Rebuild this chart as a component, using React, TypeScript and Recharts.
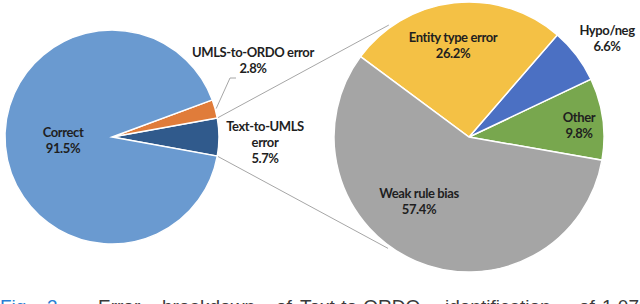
import React from 'react';
import { PieChart, Pie, Cell, Customized } from 'recharts';

// ---- data ----
const overallNames = ['Text-to-UMLS error', 'UMLS-to-ORDO error', 'Correct'];
const overallValues = [5.7, 2.8, 91.5];
const breakdownNames = ['Other', 'Hypo/neg', 'Entity type error', 'Weak rule bias'];
const breakdownValues = [9.8, 6.6, 26.2, 57.4];
const captionWords = ['Fig.', '3.', 'Error', 'breakdown', 'of', 'Text-to-ORDO', 'identification', 'of', '1,073'];

// ---- styles / layout ----
const overallColors = ['#305A8C', '#E07C3A', '#6A9AD0'];
const breakdownColors = ['#78A74E', '#4B70C3', '#F4C145', '#A5A5A5'];
const LEFT = { cx: 112, cy: 137, r: 107, start: -10.3 };
const RIGHT = { cx: 469, cy: 137, r: 135, start: -9.9 };
const FONT = "Lato, 'Liberation Sans', sans-serif";
const LABEL_SIZE = 13;
const LINE_GAP = 16;
const captionLeft = [0, 47, 98, 162, 276, 300, 445, 579, 602];

type LabelCfg = { dx: number; dy: number; lines: string[]; leader?: [number, number][] };
const labelCfg: Record<string, LabelCfg> = {
  'Correct': { dx: -49, dy: 3, lines: ['Correct'] },
  'UMLS-to-ORDO error': { dx: 141, dy: -77, lines: ['UMLS-to-ORDO error'], leader: [[118, -59], [124, -59]] },
  'Text-to-UMLS error': { dx: 153, dy: 5, lines: ['Text-to-UMLS', 'error'] },
  'Other': { dx: 110, dy: -12, lines: ['Other'] },
  'Hypo/neg': { dx: 138, dy: -99, lines: ['Hypo/neg'] },
  'Entity type error': { dx: -16, dy: -92, lines: ['Entity type error'] },
  'Weak rule bias': { dx: -50, dy: 64, lines: ['Weak rule bias'] },
};

const overallData = overallNames.map((n, i) => ({ name: n, value: overallValues[i] }));
const breakdownData = breakdownNames.map((n, i) => ({ name: n, value: breakdownValues[i] }));

const RAD = Math.PI / 180;
const polar = (cx: number, cy: number, r: number, deg: number) => [cx + r * Math.cos(deg * RAD), cy - r * Math.sin(deg * RAD)];

const renderLabel = (center: { cx: number; cy: number }) => (props: any) => {
  const cfg = labelCfg[props.name];
  if (!cfg) return null;
  const cx = center.cx;
  const cy = center.cy;
  const lines = [...cfg.lines, `${Number(props.value).toFixed(1)}%`];
  const x = cx + cfg.dx;
  const y0 = cy + cfg.dy - ((lines.length - 1) * LINE_GAP) / 2;
  let leader = null;
  if (cfg.leader) {
    const [sx, sy] = polar(cx, cy, props.outerRadius + 1, props.midAngle);
    const pts = [[sx, sy], ...cfg.leader.map(([a, b]) => [cx + a, cy + b])];
    leader = <polyline points={pts.map((p) => p.join(',')).join(' ')} fill="none" stroke="#A6A6A6" strokeWidth={1} />;
  }
  return (
    <g key={`lbl-${props.name}`}>
      {leader}
      {lines.map((t, i) => (
        <text key={i} x={x} y={y0 + i * LINE_GAP} textAnchor="middle" dominantBaseline="central"
          fontFamily={FONT} fontWeight={700} fontSize={LABEL_SIZE} letterSpacing={-0.4} fill="#1F1F1F">{t}</text>
      ))}
    </g>
  );
};

const leftEnd = LEFT.start + 360;
const rightEnd = RIGHT.start + 360;

const Connectors = () => {
  const total = overallValues.reduce((a, b) => a + b, 0);
  const a0 = LEFT.start;
  const a1 = LEFT.start + (overallValues[0] / total) * 360;
  const [x0, y0] = polar(LEFT.cx, LEFT.cy, LEFT.r, a0);
  const [x1, y1] = polar(LEFT.cx, LEFT.cy, LEFT.r, a1);
  const [x2, y2] = polar(RIGHT.cx, RIGHT.cy, RIGHT.r * 1.02, 125.6);
  const [x3, y3] = polar(RIGHT.cx, RIGHT.cy, RIGHT.r * 1.02, 234);
  return (
    <g>
      <line x1={x1} y1={y1} x2={x2} y2={y2} stroke="#A6A6A6" strokeWidth={1} />
      <line x1={x0} y1={y0} x2={x3} y2={y3} stroke="#A6A6A6" strokeWidth={1} />
    </g>
  );
};

export default function App() {
  return (
    <div style={{ position: 'absolute', left: 0, top: 0, width: 640, height: 304, overflow: 'hidden', background: '#fff' }}>
      <PieChart width={640} height={290} margin={{ top: 0, right: 0, bottom: 0, left: 0 }}>
        <Customized component={Connectors} />
        <Pie data={overallData} dataKey="value" nameKey="name" cx={LEFT.cx} cy={LEFT.cy} outerRadius={LEFT.r}
          startAngle={LEFT.start} endAngle={leftEnd} stroke="#FFFFFF" strokeWidth={1.5}
          isAnimationActive={false} labelLine={false} label={renderLabel(LEFT)}>
          {overallData.map((d, i) => <Cell key={d.name} fill={overallColors[i]} />)}
        </Pie>
        <Pie data={breakdownData} dataKey="value" nameKey="name" cx={RIGHT.cx} cy={RIGHT.cy} outerRadius={RIGHT.r}
          startAngle={RIGHT.start} endAngle={rightEnd} stroke="#FFFFFF" strokeWidth={1.5}
          isAnimationActive={false} labelLine={false} label={renderLabel(RIGHT)}>
          {breakdownData.map((d, i) => <Cell key={d.name} fill={breakdownColors[i]} />)}
        </Pie>
      </PieChart>
      {captionWords.map((w, i) => (
        <span key={i} style={{ position: 'absolute', top: 297, left: captionLeft[i], fontFamily: "'Liberation Sans', Arial, sans-serif",
          fontSize: 19, lineHeight: '19px', whiteSpace: 'nowrap', color: i < 2 ? '#2A7FD4' : '#3A3A3A' }}>{w}</span>
      ))}
    </div>
  );
}
